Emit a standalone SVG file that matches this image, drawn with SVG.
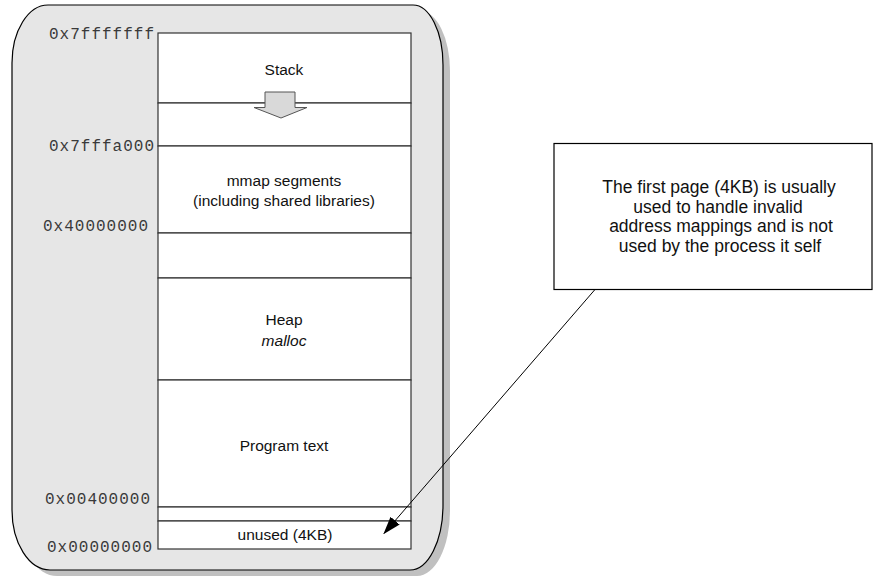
<svg xmlns="http://www.w3.org/2000/svg" width="874" height="576" viewBox="0 0 874 576">
  <style>
    .seg { fill: #ffffff; stroke: #333333; stroke-width: 1.2; }
    .addr { font-family: "Liberation Mono", "Courier New", monospace; font-size: 16px; letter-spacing: 1px; fill: #3a3a3a; text-anchor: end; }
    .lbl { font-family: "Liberation Sans", Arial, Helvetica, sans-serif; font-size: 15.5px; fill: #111111; text-anchor: middle; }
    .note { font-family: "Liberation Sans", Arial, Helvetica, sans-serif; font-size: 17.5px; fill: #111111; text-anchor: middle; }
  </style>
  <defs>
    <marker id="arrowhead" markerWidth="18" markerHeight="12" refX="17" refY="6" orient="auto" markerUnits="userSpaceOnUse">
      <path d="M0,0 L18,6 L0,12 Z" fill="#000000"/>
    </marker>
  </defs>

  <rect width="874" height="576" fill="#ffffff"/>

  <!-- address-space container with drop shadow -->
  <g id="address-space">
    <path d="M 55,11 H 420 A 30 60 0 0 1 450,71 V 511 A 33 65 0 0 1 417,576 H 57 A 38 60 0 0 1 19,516 V 69 A 36 58 0 0 1 55,11 Z" fill="#c0c0c0"/>
    <path d="M 48,5 H 413 A 30 60 0 0 1 443,65 V 505 A 33 65 0 0 1 410,570 H 50 A 38 60 0 0 1 12,510 V 63 A 36 58 0 0 1 48,5 Z" fill="#e6e6e6" stroke="#000000" stroke-width="1.2"/>
  </g>

  <!-- memory segments -->
  <g id="stack">
    <rect class="seg" x="158" y="33" width="253" height="70"/>
    <text class="lbl" x="284" y="75">Stack</text>
  </g>
  <g id="stack-gap">
    <rect class="seg" x="158" y="103" width="253" height="43"/>
  </g>
  <g id="stack-growth">
    <path d="M265,92 H295 V107.5 H307 L281,118 L254,107.5 H265 Z" fill="#d9d9d9" stroke="#555555" stroke-width="1"/>
  </g>
  <g id="mmap">
    <rect class="seg" x="158" y="146" width="253" height="87"/>
    <text class="lbl" x="284" y="185.5">mmap segments</text>
    <text class="lbl" x="284" y="205.5">(including shared libraries)</text>
  </g>
  <g id="mmap-gap">
    <rect class="seg" x="158" y="233" width="253" height="45"/>
  </g>
  <g id="heap">
    <rect class="seg" x="158" y="278" width="253" height="102"/>
    <text class="lbl" x="284" y="325">Heap</text>
    <text class="lbl" x="284" y="345.5" font-style="italic">malloc</text>
  </g>
  <g id="program-text">
    <rect class="seg" x="158" y="380" width="253" height="127"/>
    <text class="lbl" x="284" y="450.5">Program text</text>
  </g>
  <g id="text-gap">
    <rect class="seg" x="158" y="507" width="253" height="14"/>
  </g>
  <g id="unused">
    <rect class="seg" x="158" y="521" width="253" height="28"/>
    <text class="lbl" x="285" y="540">unused (4KB)</text>
  </g>

  <!-- address labels -->
  <g id="addresses">
    <text class="addr" x="155" y="39">0x7fffffff</text>
    <text class="addr" x="155" y="151">0x7fffa000</text>
    <text class="addr" x="149" y="230.5">0x40000000</text>
    <text class="addr" x="151" y="504">0x00400000</text>
    <text class="addr" x="153" y="551.5">0x00000000</text>
  </g>

  <!-- explanatory note -->
  <g id="note">
    <rect x="554" y="143.5" width="318" height="146" fill="#ffffff" stroke="#000000" stroke-width="1.2"/>
    <text class="note" x="719" y="193">The first page (4KB) is usually</text>
    <text class="note" x="718" y="212.5">used to handle invalid</text>
    <text class="note" x="721" y="232">address mappings and is not</text>
    <text class="note" x="720" y="251.5">used by the process it self</text>
  </g>

  <g id="connectors">
    <line x1="595" y1="289.5" x2="384" y2="533.5" stroke="#000000" stroke-width="1" marker-end="url(#arrowhead)"/>
  </g>
</svg>
